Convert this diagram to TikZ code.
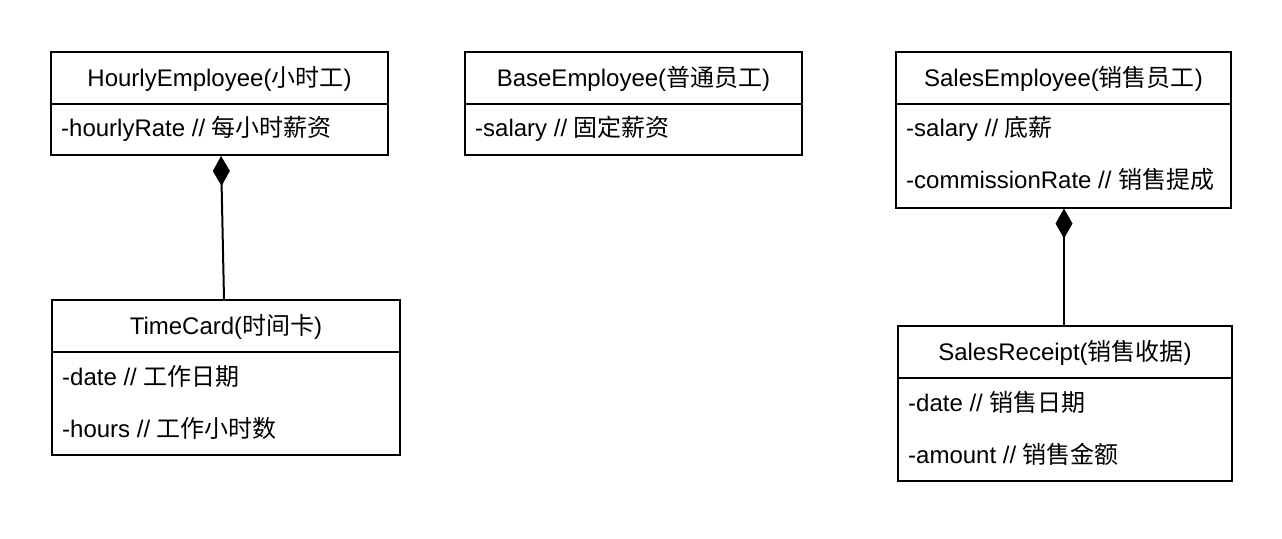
\documentclass[tikz,border=0pt]{standalone}
\usepackage{fontspec}
\setmainfont{Liberation Sans}
\newfontfamily\cjkf{Noto Sans CJK SC}
\newcommand\zh[1]{{\cjkf #1}}
\usetikzlibrary{arrows.meta}
\begin{document}
\begin{tikzpicture}[x=1pt,y=-1pt,
  every node/.style={font=\fontsize{24}{28}\selectfont, inner sep=0pt},
  hdr/.style={draw, line width=2pt, anchor=north west, minimum height=51.5pt, text height=18pt, text depth=1pt},
  bodybox/.style={draw, line width=2pt, anchor=north west},
  attr/.style={anchor=west, text height=18pt, text depth=1pt},
  comp/.style={line width=2pt, {Diamond[length=30pt,width=17pt]}-},
]
\useasboundingbox (0,0) rectangle (1282,538);
% HourlyEmployee
\node[hdr, minimum width=337pt] (he) at (50,51) {HourlyEmployee(\zh{小时工})};
\node[bodybox, minimum width=337pt, minimum height=51.5pt] (heb) at (50,102.5) {};
\node[attr] (he1) at (61,128) {-hourlyRate // \zh{每小时薪资}};
% BaseEmployee
\node[hdr, minimum width=337pt] (be) at (464,51) {BaseEmployee(\zh{普通员工})};
\node[bodybox, minimum width=337pt, minimum height=51.5pt] (beb) at (464,102.5) {};
\node[attr] (be1) at (475,128) {-salary // \zh{固定薪资}};
% SalesEmployee
\node[hdr, minimum width=335pt] (se) at (895,51) {SalesEmployee(\zh{销售员工})};
\node[bodybox, minimum width=335pt, minimum height=104pt] (seb) at (895,102.5) {};
\node[attr] (se1) at (906,128) {-salary // \zh{底薪}};
\node[attr] (se2) at (906,180) {-commissionRate // \zh{销售提成}};
% TimeCard
\node[hdr, minimum width=348pt] (tc) at (51,299) {TimeCard(\zh{时间卡})};
\node[bodybox, minimum width=348pt, minimum height=103pt] (tcb) at (51,350.5) {};
\node[attr] (tc1) at (62,377) {-date // \zh{工作日期}};
\node[attr] (tc2) at (62,429) {-hours // \zh{工作小时数}};
% SalesReceipt
\node[hdr, minimum width=334pt] (sr) at (897,325) {SalesReceipt(\zh{销售收据})};
\node[bodybox, minimum width=334pt, minimum height=103pt] (srb) at (897,376.5) {};
\node[attr] (sr1) at (908,403) {-date // \zh{销售日期}};
\node[attr] (sr2) at (908,455) {-amount // \zh{销售金额}};
% composition connectors
\draw[comp] ([xshift=1.5pt]heb.south) -- ([xshift=-2pt]tc.north);
\draw[comp] ([xshift=0.5pt]seb.south) -- ([xshift=-1pt]sr.north);
\end{tikzpicture}
\end{document}
